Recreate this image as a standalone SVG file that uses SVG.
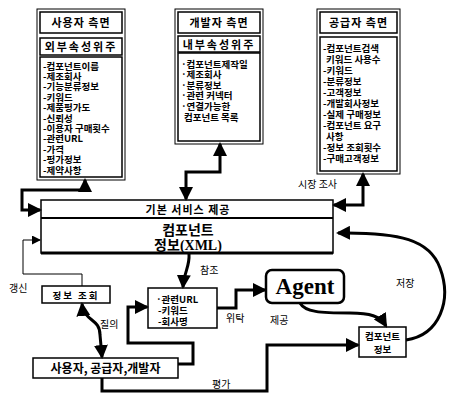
<svg xmlns="http://www.w3.org/2000/svg" width="452" height="394" viewBox="0 0 452 394">
<style>
.k{font-family:"Noto Sans CJK KR","Liberation Sans",sans-serif;font-weight:bold;fill:#000}
.lst{font-size:9.5px}
.ttl{font-size:11px;letter-spacing:1px}
.lbl{font-family:"Noto Sans CJK KR","Liberation Sans",sans-serif;font-size:10px;fill:#000}
.bx{fill:#fff;stroke:#000;stroke-width:1.5}
.fr{fill:#fff;stroke:#000;stroke-width:1}
.c{fill:none;stroke:#000;stroke-width:3}
.t{fill:none;stroke:#000;stroke-width:1}
</style>
<defs>
<marker id="a" markerUnits="userSpaceOnUse" markerWidth="14" markerHeight="14" viewBox="0 0 14 14" refX="12" refY="7" orient="auto-start-reverse"><path d="M0,0 L14,7 L0,14 z" fill="#000"/></marker>
<marker id="s" markerUnits="userSpaceOnUse" markerWidth="9" markerHeight="9" viewBox="0 0 9 9" refX="8" refY="4.5" orient="auto"><path d="M0,0 L9,4.5 L0,9 z" fill="#000"/></marker>
</defs>

<g id="user">
<rect class="fr" x="37" y="9" width="88" height="171"/>
<rect class="bx" x="40" y="12" width="82" height="21"/>
<text class="k ttl" x="81" y="27" text-anchor="middle">사용자 측면</text>
<rect class="bx" x="40" y="38" width="82" height="17"/>
<text class="k ttl" x="81" y="51" text-anchor="middle" style="letter-spacing:2px">외부속성위주</text>
<rect class="bx" x="40" y="57" width="82" height="120"/>
<text class="k lst" x="43" y="69.5">-컴포넌트이름</text>
<text class="k lst" x="43" y="79.9">-제조회사</text>
<text class="k lst" x="43" y="90.3">-기능분류정보</text>
<text class="k lst" x="43" y="100.7">-키워드</text>
<text class="k lst" x="43" y="111.1">-제품평가도</text>
<text class="k lst" x="43" y="121.5">-신뢰성</text>
<text class="k lst" x="43" y="131.9">-이용자 구매횟수</text>
<text class="k lst" x="43" y="142.3">-관련URL</text>
<text class="k lst" x="43" y="152.7">-가격</text>
<text class="k lst" x="43" y="163.1">-평가정보</text>
<text class="k lst" x="43" y="173.5">-제약사항</text>
</g>

<g id="developer">
<rect class="fr" x="175" y="9" width="88" height="135"/>
<rect class="bx" x="178" y="12" width="82" height="21"/>
<text class="k ttl" x="219" y="27" text-anchor="middle">개발자 측면</text>
<rect class="bx" x="178" y="36" width="82" height="16"/>
<text class="k ttl" x="219" y="48.5" text-anchor="middle" style="letter-spacing:2px">내부속성위주</text>
<rect class="bx" x="178" y="53" width="82" height="88"/>
<text class="k lst" x="181" y="67.5">·컴포넌트제작일</text>
<text class="k lst" x="181" y="78.1">·제조회사</text>
<text class="k lst" x="181" y="88.7">·분류정보</text>
<text class="k lst" x="181" y="99.3">·관련 커넥터</text>
<text class="k lst" x="181" y="109.9">·연결가능한</text>
<text class="k lst" x="184" y="120.5">컴포넌트 목록</text>
</g>

<g id="supplier">
<rect class="fr" x="317" y="9" width="83" height="165"/>
<rect class="bx" x="320" y="12" width="77" height="21"/>
<text class="k ttl" x="358.5" y="27" text-anchor="middle">공급자 측면</text>
<rect class="bx" x="320" y="37" width="77" height="134"/>
<text class="k lst" x="323" y="51.5">-컴포넌트검색</text>
<text class="k lst" x="326" y="62.5">키워드 사용수</text>
<text class="k lst" x="323" y="73.5">-키워드</text>
<text class="k lst" x="323" y="84.5">-분류정보</text>
<text class="k lst" x="323" y="95.5">-고객정보</text>
<text class="k lst" x="323" y="106.5">-개발회사정보</text>
<text class="k lst" x="323" y="117.5">-실제 구매정보</text>
<text class="k lst" x="323" y="128.5">-컴포넌트 요구</text>
<text class="k lst" x="326" y="139.5">사항</text>
<text class="k lst" x="323" y="150.5">-정보 조회횟수</text>
<text class="k lst" x="323" y="161.5">-구매고객정보</text>
</g>

<g id="main">
<rect class="bx" x="41" y="200" width="292" height="53"/>
<line x1="41" y1="218" x2="333" y2="218" stroke="#000" stroke-width="2"/>
<line x1="41" y1="253" x2="333" y2="253" stroke="#000" stroke-width="3"/>
<text class="k ttl" x="188" y="213.5" text-anchor="middle">기본 서비스 제공</text>
<text class="k" x="188" y="235" font-size="14" text-anchor="middle">컴포넌트</text>
<text class="k" x="188" y="250" font-size="14" text-anchor="middle">정보<tspan font-family="Liberation Serif">(XML)</tspan></text>
</g>

<g id="query">
<rect class="bx" x="42" y="286" width="68" height="17" stroke-width="2"/>
<text class="k lst" x="76" y="298.5" text-anchor="middle" style="letter-spacing:2px">정보 조회</text>
</g>

<g id="related">
<rect class="bx" x="148" y="288" width="69" height="40" stroke-width="2"/>
<text class="k lst" x="156" y="303">·관련URL</text>
<text class="k lst" x="158" y="314">-키워드</text>
<text class="k lst" x="158" y="325">-회사명</text>
</g>

<g id="agent">
<rect x="266" y="270" width="78" height="33" rx="6" fill="#fff" stroke="#000" stroke-width="2.5"/>
<text x="305" y="294" font-family="Liberation Serif,serif" font-weight="bold" font-size="23" text-anchor="middle">Agent</text>
</g>

<g id="compinfo">
<rect class="bx" x="359" y="327" width="47" height="30" stroke-width="2.5"/>
<text class="k lst" x="382.5" y="340" text-anchor="middle">컴포넌트</text>
<text class="k lst" x="382.5" y="353" text-anchor="middle">정보</text>
</g>

<g id="actors">
<rect class="bx" x="33" y="358" width="145" height="20" stroke-width="2"/>
<text class="k" x="105.5" y="372.5" font-size="12" text-anchor="middle">사용자, 공급자,개발자</text>
</g>

<g id="connectors">
<path class="c" d="M85,180 V190 H22 V210 H40" marker-start="url(#a)" marker-end="url(#a)"/>
<path class="c" d="M220,144 V172 H186 V199" marker-start="url(#a)" marker-end="url(#a)"/>
<path class="c" d="M363,174 V205 H334" marker-start="url(#a)" marker-end="url(#a)"/>
<path class="c" d="M189,254 C190,266 184,272 183,287" marker-end="url(#a)"/>
<path class="c" d="M217,308 H236 V290 H265" marker-end="url(#a)"/>
<path class="c" d="M300,303 C305,312 320,313 350,313 C370,313 380,316 386,326" marker-end="url(#a)"/>
<path class="c" d="M406,340 C440,335 452,300 440,268 C430,240 400,232 338,233" stroke-width="2.5" marker-end="url(#a)"/>
<path class="t" d="M82,286 V274 H23 V240 H40" marker-end="url(#s)"/>
<path class="c" d="M82,304 C84,322 100,318 100,335 L102,357" marker-start="url(#a)" marker-end="url(#a)"/>
<path class="c" d="M178,364 H193 V343 H128 V307 H147" marker-end="url(#a)"/>
<path class="c" d="M102,378 V391 H267 V345 H358" marker-end="url(#a)"/>
</g>

<g id="labels">
<text class="lbl" x="298" y="188">시장 조사</text>
<text class="lbl" x="200" y="274">참조</text>
<text class="lbl" x="226" y="322">위탁</text>
<text class="lbl" x="270" y="324">제공</text>
<text class="lbl" x="396" y="287">저장</text>
<text class="lbl" x="9" y="292">갱신</text>
<text class="lbl" x="100" y="328">질의</text>
<text class="lbl" x="212" y="388">평가</text>
</g>
</svg>
